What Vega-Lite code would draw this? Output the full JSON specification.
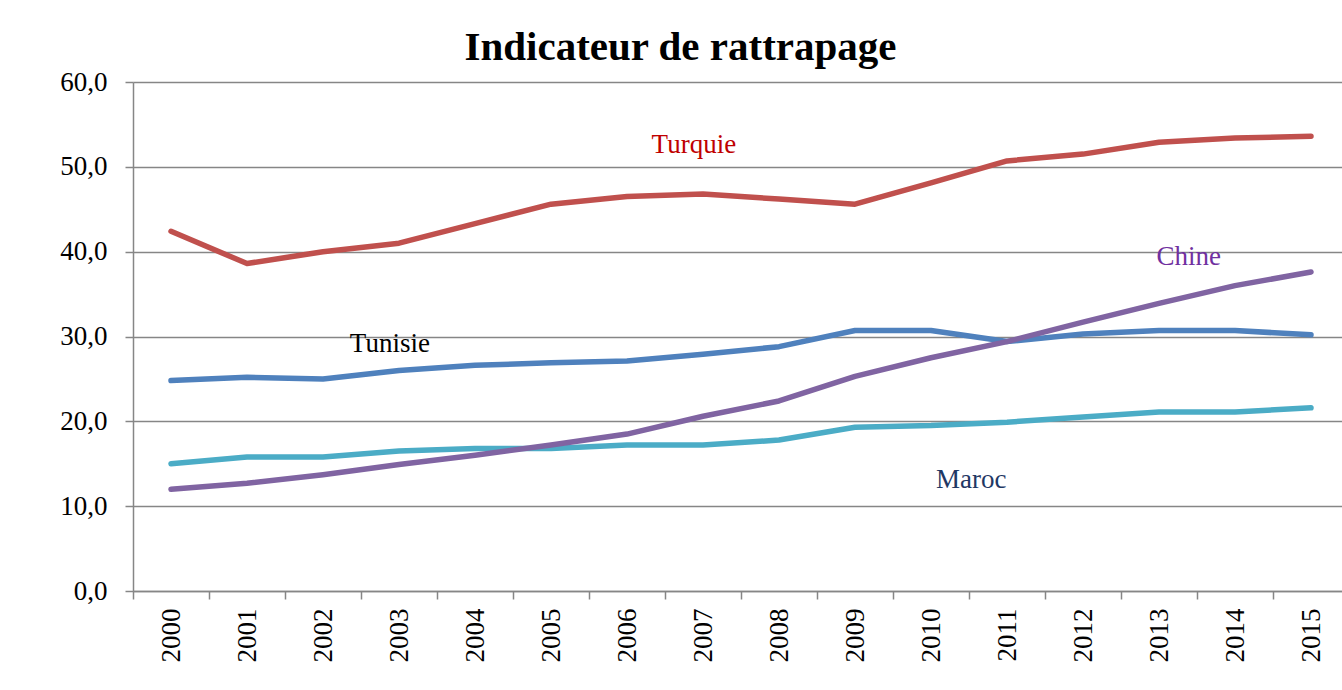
{
  "$schema": "https://vega.github.io/schema/vega-lite/v6.json",
  "width": 1209,
  "height": 509,
  "autosize": {"type": "none"},
  "padding": {"left": 133, "top": 82, "right": 0, "bottom": 99},
  "background": "white",
  "title": {
    "text": "Indicateur de rattrapage",
    "font": "Liberation Serif",
    "fontSize": 41,
    "fontWeight": "bold",
    "color": "black",
    "anchor": "middle",
    "frame": "group",
    "dx": -57,
    "dy": 39,
    "offset": 6,
    "baseline": "alphabetic"
  },
  "config": {
    "view": {"stroke": null},
    "axis": {
      "labelFont": "Liberation Serif",
      "labelFontSize": 27,
      "labelColor": "black",
      "domainColor": "#868686",
      "domainWidth": 1.5,
      "tickColor": "#868686",
      "tickWidth": 1.5,
      "tickSize": 8,
      "gridColor": "#868686",
      "gridWidth": 1.5,
      "title": null
    }
  },
  "datasets": {
    "series": [
      {"pays": "Tunisie", "annee": "2000", "valeur": 24.8},
      {"pays": "Tunisie", "annee": "2001", "valeur": 25.2},
      {"pays": "Tunisie", "annee": "2002", "valeur": 25.0},
      {"pays": "Tunisie", "annee": "2003", "valeur": 26.0},
      {"pays": "Tunisie", "annee": "2004", "valeur": 26.6},
      {"pays": "Tunisie", "annee": "2005", "valeur": 26.9},
      {"pays": "Tunisie", "annee": "2006", "valeur": 27.1},
      {"pays": "Tunisie", "annee": "2007", "valeur": 27.9},
      {"pays": "Tunisie", "annee": "2008", "valeur": 28.8},
      {"pays": "Tunisie", "annee": "2009", "valeur": 30.7},
      {"pays": "Tunisie", "annee": "2010", "valeur": 30.7},
      {"pays": "Tunisie", "annee": "2011", "valeur": 29.4},
      {"pays": "Tunisie", "annee": "2012", "valeur": 30.3},
      {"pays": "Tunisie", "annee": "2013", "valeur": 30.7},
      {"pays": "Tunisie", "annee": "2014", "valeur": 30.7},
      {"pays": "Tunisie", "annee": "2015", "valeur": 30.2},
      {"pays": "Maroc", "annee": "2000", "valeur": 15.0},
      {"pays": "Maroc", "annee": "2001", "valeur": 15.8},
      {"pays": "Maroc", "annee": "2002", "valeur": 15.8},
      {"pays": "Maroc", "annee": "2003", "valeur": 16.5},
      {"pays": "Maroc", "annee": "2004", "valeur": 16.8},
      {"pays": "Maroc", "annee": "2005", "valeur": 16.8},
      {"pays": "Maroc", "annee": "2006", "valeur": 17.2},
      {"pays": "Maroc", "annee": "2007", "valeur": 17.2},
      {"pays": "Maroc", "annee": "2008", "valeur": 17.8},
      {"pays": "Maroc", "annee": "2009", "valeur": 19.3},
      {"pays": "Maroc", "annee": "2010", "valeur": 19.5},
      {"pays": "Maroc", "annee": "2011", "valeur": 19.9},
      {"pays": "Maroc", "annee": "2012", "valeur": 20.5},
      {"pays": "Maroc", "annee": "2013", "valeur": 21.1},
      {"pays": "Maroc", "annee": "2014", "valeur": 21.1},
      {"pays": "Maroc", "annee": "2015", "valeur": 21.6},
      {"pays": "Turquie", "annee": "2000", "valeur": 42.4},
      {"pays": "Turquie", "annee": "2001", "valeur": 38.6},
      {"pays": "Turquie", "annee": "2002", "valeur": 40.0},
      {"pays": "Turquie", "annee": "2003", "valeur": 41.0},
      {"pays": "Turquie", "annee": "2004", "valeur": 43.3},
      {"pays": "Turquie", "annee": "2005", "valeur": 45.6},
      {"pays": "Turquie", "annee": "2006", "valeur": 46.5},
      {"pays": "Turquie", "annee": "2007", "valeur": 46.8},
      {"pays": "Turquie", "annee": "2008", "valeur": 46.2},
      {"pays": "Turquie", "annee": "2009", "valeur": 45.6},
      {"pays": "Turquie", "annee": "2010", "valeur": 48.1},
      {"pays": "Turquie", "annee": "2011", "valeur": 50.7},
      {"pays": "Turquie", "annee": "2012", "valeur": 51.5},
      {"pays": "Turquie", "annee": "2013", "valeur": 52.9},
      {"pays": "Turquie", "annee": "2014", "valeur": 53.4},
      {"pays": "Turquie", "annee": "2015", "valeur": 53.6},
      {"pays": "Chine", "annee": "2000", "valeur": 12.0},
      {"pays": "Chine", "annee": "2001", "valeur": 12.7},
      {"pays": "Chine", "annee": "2002", "valeur": 13.7},
      {"pays": "Chine", "annee": "2003", "valeur": 14.9},
      {"pays": "Chine", "annee": "2004", "valeur": 16.0},
      {"pays": "Chine", "annee": "2005", "valeur": 17.2},
      {"pays": "Chine", "annee": "2006", "valeur": 18.5},
      {"pays": "Chine", "annee": "2007", "valeur": 20.6},
      {"pays": "Chine", "annee": "2008", "valeur": 22.4},
      {"pays": "Chine", "annee": "2009", "valeur": 25.3},
      {"pays": "Chine", "annee": "2010", "valeur": 27.5},
      {"pays": "Chine", "annee": "2011", "valeur": 29.4},
      {"pays": "Chine", "annee": "2012", "valeur": 31.7},
      {"pays": "Chine", "annee": "2013", "valeur": 33.9},
      {"pays": "Chine", "annee": "2014", "valeur": 36.0},
      {"pays": "Chine", "annee": "2015", "valeur": 37.6}
    ],
    "etiquettes": [
      {"pays": "Turquie", "x": 2006.88, "y": 51.6},
      {"pays": "Tunisie", "x": 2002.88, "y": 28.15},
      {"pays": "Chine", "x": 2013.39, "y": 38.4},
      {"pays": "Maroc", "x": 2010.53, "y": 12.2}
    ]
  },
  "layer": [
    {
      "data": {"name": "series"},
      "mark": {"type": "line", "strokeWidth": 5.5, "strokeCap": "round", "strokeJoin": "round"},
      "encoding": {
        "x": {
          "field": "annee",
          "type": "ordinal",
          "scale": {"type": "band", "range": [0, 1216], "paddingInner": 0, "paddingOuter": 0},
          "axis": {
            "labelAngle": -90,
            "labelAlign": "right",
            "labelBaseline": "middle",
            "labelPadding": 9,
            "tickBand": "extent",
            "grid": false
          }
        },
        "y": {
          "field": "valeur",
          "type": "quantitative",
          "scale": {"domain": [0, 60]},
          "axis": {
            "values": [0, 10, 20, 30, 40, 50, 60],
            "labelExpr": "replace(format(datum.value, '.1f'), '.', ',')",
            "labelPadding": 18,
            "grid": true
          }
        },
        "color": {
          "field": "pays",
          "type": "nominal",
          "scale": {
            "domain": ["Tunisie", "Maroc", "Turquie", "Chine"],
            "range": ["#4F81BD", "#4BACC6", "#C0504D", "#8064A2"]
          },
          "legend": null
        }
      }
    },
    {
      "data": {"name": "etiquettes"},
      "mark": {"type": "text", "font": "Liberation Serif", "fontSize": 27, "baseline": "alphabetic", "align": "center"},
      "encoding": {
        "x": {
          "field": "x",
          "type": "quantitative",
          "scale": {"domain": [1999.5, 2015.5], "range": [0, 1216]},
          "axis": null
        },
        "y": {"field": "y", "type": "quantitative"},
        "text": {"field": "pays"},
        "color": {
          "field": "pays",
          "type": "nominal",
          "scale": {
            "domain": ["Turquie", "Tunisie", "Chine", "Maroc"],
            "range": ["#C00000", "#000000", "#7030A0", "#1F3864"]
          },
          "legend": null
        }
      }
    }
  ],
  "resolve": {"scale": {"x": "independent", "color": "independent"}}
}
